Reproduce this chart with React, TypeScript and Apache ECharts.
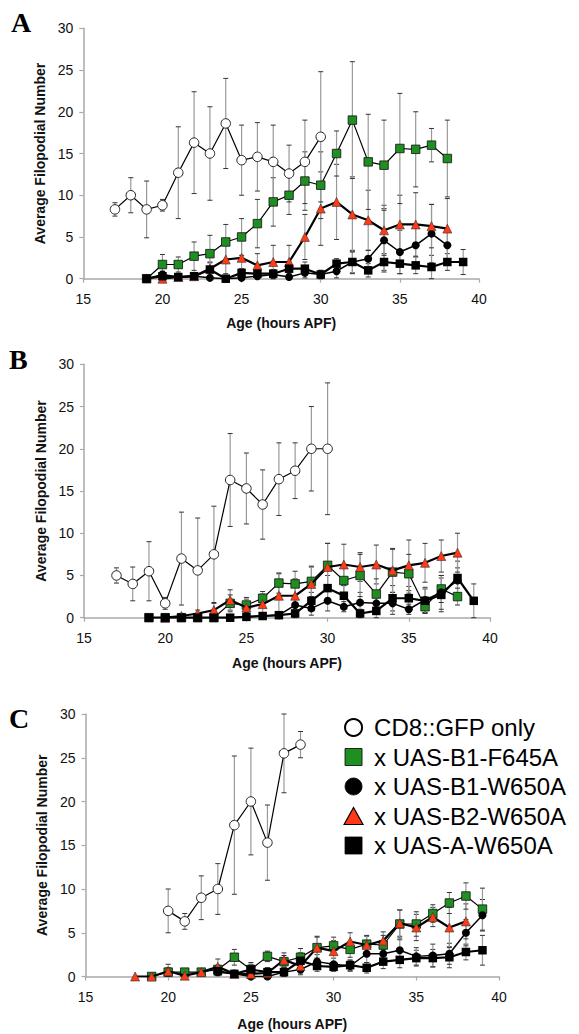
import React, { useEffect, useRef } from 'react';
import * as echarts from 'echarts';

type Pt = [number, number, number]; // [age (h APF), mean, error]

const SERIES_NAMES = ['CD8::GFP only', 'x UAS-B1-F645A', 'x UAS-B1-W650A', 'x UAS-B2-W650A', 'x UAS-A-W650A'];
const PANEL_LETTERS = ['A', 'B', 'C'];
const X_TITLE = 'Age (hours APF)';
const Y_TITLE = 'Average Filopodial Number';

// ---- Panel A ----
const A_CD8: Pt[] = [[17,8.3,0.8],[18,10.0,2.1],[19,8.3,3.4],[20,8.8,0.7],[21,12.7,5.5],[22,16.3,6.1],[23,15.0,5.6],[24,18.6,5.4],[25,14.2,4.2],[26,14.6,4.1],[27,14.0,4.4],[28,12.6,3.4],[29,14.0,5.0],[30,17.0,7.8]];
const A_B1F645A: Pt[] = [[19,0,0],[20,1.7,1.2],[21,1.7,0.9],[22,2.7,1.7],[23,3.0,2.2],[24,4.4,2.1],[25,5.0,2.2],[26,6.6,2.9],[27,9.2,2.9],[28,10.0,2.3],[29,11.7,3.5],[30,11.2,4.0],[31,15.0,2.7],[32,19.0,7.0],[33,14.0,5.7],[34,13.6,5.4],[35,15.6,6.6],[36,15.5,4.5],[37,16.0,2.0],[38,14.4,4.6]];
const A_B1W650A: Pt[] = [[19,0,0],[20,0.5,0.4],[21,0.2,0.3],[22,0.3,0.3],[23,0.1,0.3],[24,0,0.2],[25,0.1,0.3],[26,0.3,0.4],[27,0.5,0.5],[28,0.2,0.4],[29,0.7,0.6],[30,0.5,0.5],[31,0.9,0.8],[32,2.0,1.4],[33,2.4,1.0],[34,4.6,3.8],[35,3.2,2.6],[36,4.0,2.4],[37,5.4,3.5],[38,4.0,1.8]];
const A_B2W650A: Pt[] = [[20,0,0],[21,0.2,0.3],[22,0.3,0.3],[23,1.2,0.8],[24,2.3,1.7],[25,2.5,2.3],[26,1.6,1.4],[27,2.0,2.0],[28,2.0,2.0],[29,5.0,2.7],[30,8.4,4.4],[31,9.2,4.5],[32,7.7,4.5],[33,7.0,3.6],[34,5.8,3.0],[35,6.5,3.5],[36,6.5,3.8],[37,6.3,2.6],[38,6.0,3.6]];
const A_AW650A: Pt[] = [[19,0,0],[20,0.3,0.3],[21,0.2,0.3],[22,0.3,0.3],[23,1.1,0.8],[24,0,0.2],[25,0.7,0.5],[26,0.6,0.5],[27,0.6,0.5],[28,1.2,0.8],[29,1.2,0.8],[30,0.5,0.5],[31,1.8,0.6],[32,2.0,1.3],[33,1.0,0.8],[34,2.0,1.0],[35,1.8,1.2],[36,1.6,1.0],[37,1.4,1.4],[38,2.0,1.0],[39,2.0,1.5]];

// ---- Panel B ----
const B_CD8: Pt[] = [[17,5.0,0.9],[18,4.0,2.0],[19,5.5,3.5],[20,1.7,0.7],[21,7.0,5.5],[22,5.6,6.2],[23,7.5,5.7],[24,16.3,5.5],[25,15.3,4.2],[26,13.4,4.1],[27,16.4,4.3],[28,17.4,3.3],[29,20.0,5.0],[30,20.0,7.8]];
const B_B1F645A: Pt[] = [[19,0,0],[20,0,0],[21,0,0.2],[22,0,0.2],[23,0,0.2],[24,1.7,1.0],[25,1.5,0.9],[26,2.3,0.8],[27,4.1,1.2],[28,4.0,1.5],[29,4.3,1.8],[30,6.2,2.6],[31,4.4,1.5],[32,5.0,2.5],[33,2.8,1.8],[34,5.4,2.7],[35,5.2,2.3],[36,1.3,0.8],[37,3.4,1.6],[38,2.5,1.0]];
const B_B1W650A: Pt[] = [[21,0,0],[22,0,0],[23,0,0],[24,0,0],[25,0.1,0.2],[26,0.2,0.3],[27,0.3,0.4],[28,1.5,0.9],[29,1.1,0.8],[30,2.0,1.2],[31,1.3,0.6],[32,1.8,1.2],[33,1.7,1.0],[34,1.7,1.3],[35,1.0,0.6],[36,2.1,1.5],[37,3.0,2.0],[38,4.4,1.5]];
const B_B2W650A: Pt[] = [[20,0,0],[21,0.2,0.3],[22,0.5,0.4],[23,0.9,0.8],[24,2.1,1.2],[25,1.2,1.0],[26,1.6,1.2],[27,2.6,2.6],[28,2.6,2.0],[29,4.0,2.0],[30,6.0,2.8],[31,6.3,2.4],[32,6.0,1.7],[33,6.3,2.3],[34,5.6,2.6],[35,6.2,3.0],[36,6.5,2.3],[37,7.3,1.9],[38,7.7,2.3]];
const B_AW650A: Pt[] = [[19,0,0],[20,0,0],[21,0,0],[22,0,0],[23,0,0],[24,0,0],[25,0.1,0.2],[26,0.2,0.3],[27,0.3,0.4],[28,0.5,0.5],[29,2.0,1.0],[30,3.5,1.5],[31,2.6,1.2],[32,0.5,0.5],[33,0.8,0.8],[34,2.3,1.5],[35,2.3,1.4],[36,2.0,1.4],[37,2.7,2.0],[38,4.7,2.0],[39,2.0,2.0]];

// ---- Panel C ----
const C_CD8: Pt[] = [[20,7.5,2.5],[21,6.3,0.9],[22,9.0,2.5],[23,10.0,2.9],[24,17.3,7.9],[25,20.0,6.1],[26,15.3,4.3],[27,25.5,4.5],[28,26.5,1.5]];
const C_B1F645A: Pt[] = [[19,0,0],[20,0.5,0.5],[21,0.5,0.3],[22,0.5,0.3],[23,0.8,0.5],[24,2.2,0.9],[25,0.8,0.8],[26,2.3,0.6],[27,1.7,0.7],[28,2.2,1.0],[29,3.3,1.2],[30,3.5,1.0],[31,3.1,0.9],[32,3.7,1.0],[33,3.6,1.1],[34,6.0,1.6],[35,6.0,1.4],[36,7.2,1.0],[37,8.4,1.2],[38,9.2,1.5],[39,7.7,2.4]];
const C_B1W650A: Pt[] = [[23,0.5,0.4],[24,0.3,0.3],[25,0,0.3],[26,0,0.4],[27,0.5,0.5],[28,0.8,0.6],[29,1.7,0.8],[30,1.4,0.7],[31,1.2,0.6],[32,2.6,1.0],[33,2.6,1.0],[34,3.0,1.2],[35,2.3,1.0],[36,2.4,1.3],[37,2.6,1.2],[38,5.0,1.5],[39,7.0,1.8]];
const C_B2W650A: Pt[] = [[18,0,0],[19,0,0],[20,0.6,0.8],[21,0.1,0.3],[22,0.5,0.3],[23,1.1,0.9],[24,0.3,0.4],[25,0.3,0.5],[26,0.4,0.6],[27,1.9,0.8],[28,1.2,0.8],[29,3.3,1.3],[30,2.9,1.2],[31,4.0,1.0],[32,3.6,1.0],[33,4.1,1.0],[34,6.1,1.5],[35,5.6,1.5],[36,6.8,1.1],[37,5.6,2.3],[38,6.3,2.0]];
const C_AW650A: Pt[] = [[23,0.6,0.5],[24,0.3,0.4],[25,0.8,0.6],[26,0.5,0.5],[27,0.5,0.5],[28,1.8,0.9],[29,1.2,0.6],[30,1.1,0.5],[31,1.3,0.6],[32,1.0,0.6],[33,1.7,0.8],[34,1.9,0.9],[35,2.1,0.9],[36,2.1,1.0],[37,2.2,1.2],[38,2.8,0.9],[39,3.0,1.7]];

const PANELS: Pt[][][] = [
  [A_CD8, A_B1F645A, A_B1W650A, A_B2W650A, A_AW650A],
  [B_CD8, B_B1F645A, B_B1W650A, B_B2W650A, B_AW650A],
  [C_CD8, C_B1F645A, C_B1W650A, C_B2W650A, C_AW650A],
];

const FONT = "'Liberation Sans', Arial, sans-serif";
const SQUARE = 'path://M0,0L10,0L10,10L0,10Z';
const TRIANGLE = 'path://M5,0L10,9L0,9Z';

const STYLES = [
  { symbol: 'circle', size: 9.5, fill: '#ffffff', border: '#222222', bw: 1, lw: 1.2, icon: 'circle' },
  { symbol: 'rect', size: 8.5, fill: '#1f8f22', border: '#111111', bw: 0.8, lw: 1.2, icon: SQUARE },
  { symbol: 'circle', size: 8, fill: '#000000', border: '#000000', bw: 0, lw: 1.5, icon: 'circle' },
  { symbol: 'triangle', size: 9, fill: '#ff3a14', border: '#333333', bw: 0.6, lw: 2.2, icon: TRIANGLE },
  { symbol: 'rect', size: 8.5, fill: '#000000', border: '#000000', bw: 0, lw: 2.2, icon: SQUARE },
];

const GRIDS = [
  { left: 83.3, top: 28.3, width: 395.7, height: 250.4, yGap: 26, xGap: 37 },
  { left: 84, top: 364.3, width: 406, height: 253.4, yGap: 27, xGap: 38 },
  { left: 85.5, top: 714, width: 413.5, height: 262.5, yGap: 30, xGap: 40 },
];
const LETTER_POS = [[11, 22], [9, 359], [9, 718]];

const AXIS_GRAY = '#a9a9a9';

const App: React.FC = () => {
  const ref = useRef<HTMLDivElement>(null);
  useEffect(() => {
    if (!ref.current) return;
    const chart = echarts.init(ref.current, null, { renderer: 'svg' });

    const errRender = (params: any, api: any) => {
      const x = api.value(0);
      const v = api.value(1);
      const e = api.value(2);
      if (!e) return null;
      const top = api.coord([x, v + e]);
      const bot = api.coord([x, Math.max(0, v - e)]);
      const hw = 2.5;
      return {
        type: 'group',
        children: [
          { type: 'line', shape: { x1: top[0], y1: top[1], x2: bot[0], y2: bot[1] }, style: { stroke: '#999999', lineWidth: 1.2 } },
          { type: 'line', shape: { x1: top[0] - hw, y1: top[1], x2: top[0] + hw, y2: top[1] }, style: { stroke: '#333333', lineWidth: 1 } },
          { type: 'line', shape: { x1: bot[0] - hw, y1: bot[1], x2: bot[0] + hw, y2: bot[1] }, style: { stroke: '#333333', lineWidth: 1 } },
        ],
      };
    };

    const series: any[] = [];
    const order = [4, 2, 3, 1, 0];
    PANELS.forEach((panel, pi) => {
      order.forEach((si) => {
        series.push({
          type: 'custom',
          name: SERIES_NAMES[si],
          xAxisIndex: pi,
          yAxisIndex: pi,
          z: 1,
          silent: true,
          renderItem: errRender,
          encode: { x: 0, y: 1 },
          data: panel[si],
        });
      });
      order.forEach((si) => {
        const st = STYLES[si];
        series.push({
          type: 'line',
          name: SERIES_NAMES[si],
          xAxisIndex: pi,
          yAxisIndex: pi,
          z: 3 + si,
          symbol: st.symbol,
          symbolSize: st.size,
          showAllSymbol: true,
          lineStyle: { color: '#000000', width: st.lw },
          itemStyle: { color: st.fill, borderColor: st.border, borderWidth: st.bw },
          emphasis: { disabled: true },
          data: panel[si].map((p) => [p[0], p[1]]),
        });
      });
    });

    const option: any = {
      animation: false,
      backgroundColor: '#ffffff',
      grid: GRIDS.map((g) => ({ left: g.left, top: g.top, width: g.width, height: g.height, containLabel: false })),
      xAxis: GRIDS.map((g, i) => ({
        type: 'value',
        gridIndex: i,
        min: 15,
        max: 40,
        interval: 5,
        name: X_TITLE,
        nameLocation: 'middle',
        nameGap: g.xGap,
        nameTextStyle: { fontFamily: FONT, fontWeight: 'bold', fontSize: 14, color: '#111' },
        axisLine: { show: true, lineStyle: { color: AXIS_GRAY, width: 1.5 } },
        axisTick: { show: true, length: 4, lineStyle: { color: AXIS_GRAY, width: 1.2 } },
        axisLabel: { fontFamily: FONT, fontSize: 14, color: '#111', margin: 13 },
        splitLine: { show: false },
      })),
      yAxis: GRIDS.map((g, i) => ({
        type: 'value',
        gridIndex: i,
        min: 0,
        max: 30,
        interval: 5,
        name: Y_TITLE,
        nameLocation: 'middle',
        nameGap: g.yGap,
        nameTextStyle: { fontFamily: FONT, fontWeight: 'bold', fontSize: 14, color: '#111' },
        axisLine: { show: true, lineStyle: { color: AXIS_GRAY, width: 1.5 } },
        axisTick: { show: true, length: 4, lineStyle: { color: AXIS_GRAY, width: 1.2 } },
        axisLabel: { fontFamily: FONT, fontSize: 14, color: '#111', margin: 10 },
        splitLine: { show: false },
      })),
      legend: {
        orient: 'vertical',
        left: 338.5,
        top: 710.5,
        itemWidth: 31,
        itemHeight: 17,
        itemGap: 5.5,
        selectedMode: false,
        textStyle: { fontFamily: FONT, fontSize: 24, color: '#000', lineHeight: 22 },
        data: SERIES_NAMES.map((n, i) => ({
          name: n,
          icon: STYLES[i].icon,
          itemStyle: {
            color: STYLES[i].fill,
            borderColor: '#000000',
            borderWidth: i === 0 ? 2 : i === 3 ? 1.2 : 0.8,
          },
        })),
      },
      graphic: PANEL_LETTERS.map((l, i) => ({
        type: 'text',
        left: LETTER_POS[i][0],
        top: LETTER_POS[i][1] - 14,
        style: { text: l, fontFamily: "'Liberation Serif', 'Times New Roman', serif", fontWeight: 'bold', fontSize: 28, fill: '#000' },
      })),
      series,
    };

    chart.setOption(option);
    return () => chart.dispose();
  }, []);

  return <div ref={ref} style={{ position: 'fixed', left: 0, top: 0, width: 579, height: 1034, background: '#fff' }} />;
};

export default App;
